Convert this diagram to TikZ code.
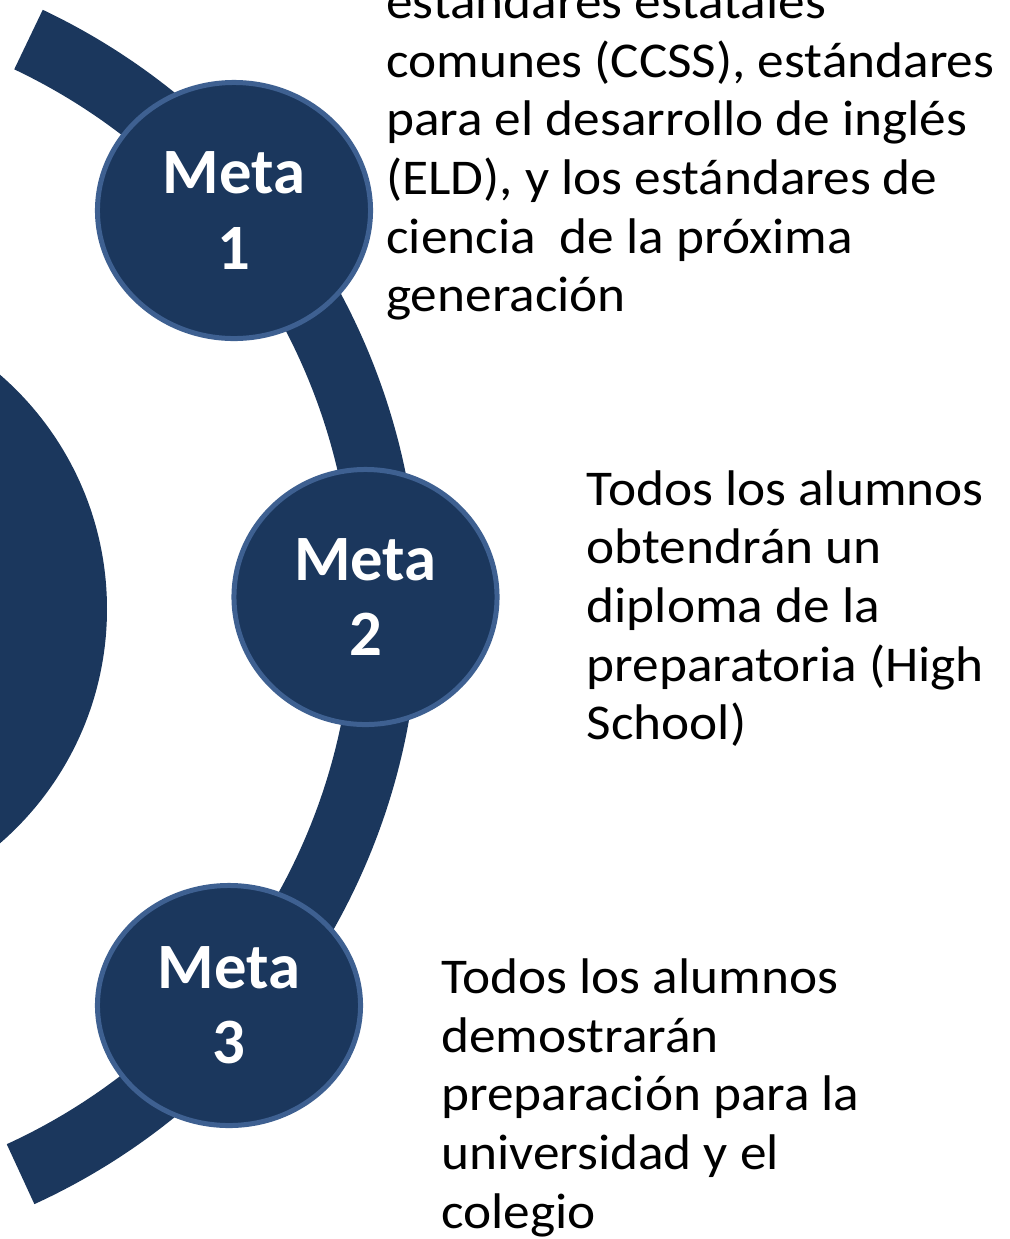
\documentclass[tikz,border=0pt]{standalone}
\usepackage{fontspec}
\setmainfont{Carlito}[FakeStretch=1.065]
\newfontfamily\goalfont{Carlito}
\usetikzlibrary{shapes.geometric}
\definecolor{navy}{HTML}{1B375D}
\definecolor{rim}{HTML}{3E6091}

\begin{document}
\begin{tikzpicture}[
       x = 0.025cm, y = -0.025cm,
goal/.style = {ellipse, fill=navy, draw=rim, line width=1.25mm,
               inner sep=0pt, text=white, align=center,
               font=\goalfont\fontsize{46}{53.4}\selectfont\bfseries},% circles on the band
note/.style = {anchor=north west, inner sep=0pt, align=left,
               font=\fontsize{35.6}{41.7}\selectfont},% text beside the circles
band/.style = {draw=navy, line width=1.65cm, line cap=butt},
]
\useasboundingbox (0,0) rectangle (1009,1239);
\clip (0,0) rectangle (1009,1239);
\coordinate (core) at (-203,609);
\coordinate (hub)  at (-240,605);
% big disc and curved band
\fill[navy] (core) circle[radius=310];
\draw[band] (hub) ++(-64.6:626) arc[start angle=-64.6, end angle=65.4, radius=626];
% goals
\node[goal, minimum width=6.825cm, minimum height=6.4cm]   (m1) at (234,210.5) {Meta\\1};
\node[goal, minimum width=6.575cm, minimum height=6.375cm] (m2) at (365.5,597) {Meta\\2};
\node[goal, minimum width=6.575cm, minimum height=6cm]     (m3) at (229,1005.5) {Meta\\3};
% texts
\node[note] (t1) at (386,-22.7) {\strut est\'andares estatales\\
  comunes (CCSS), est\'andares\\ para el desarrollo de ingl\'es\\
  (ELD), y los est\'andares de\\ ciencia~ de la pr\'oxima\\ generaci\'on};
\node[note] (t2) at (586.5,464) {\strut Todos los alumnos\\ obtendr\'an un\\
  diploma de la\\ preparatoria (High\\ School)};
\node[note] (t3) at (441,952.3) {\strut Todos los alumnos\\ demostrar\'an\\
  preparaci\'on para la\\ universidad y el\\ colegio};
\end{tikzpicture}
\end{document}
